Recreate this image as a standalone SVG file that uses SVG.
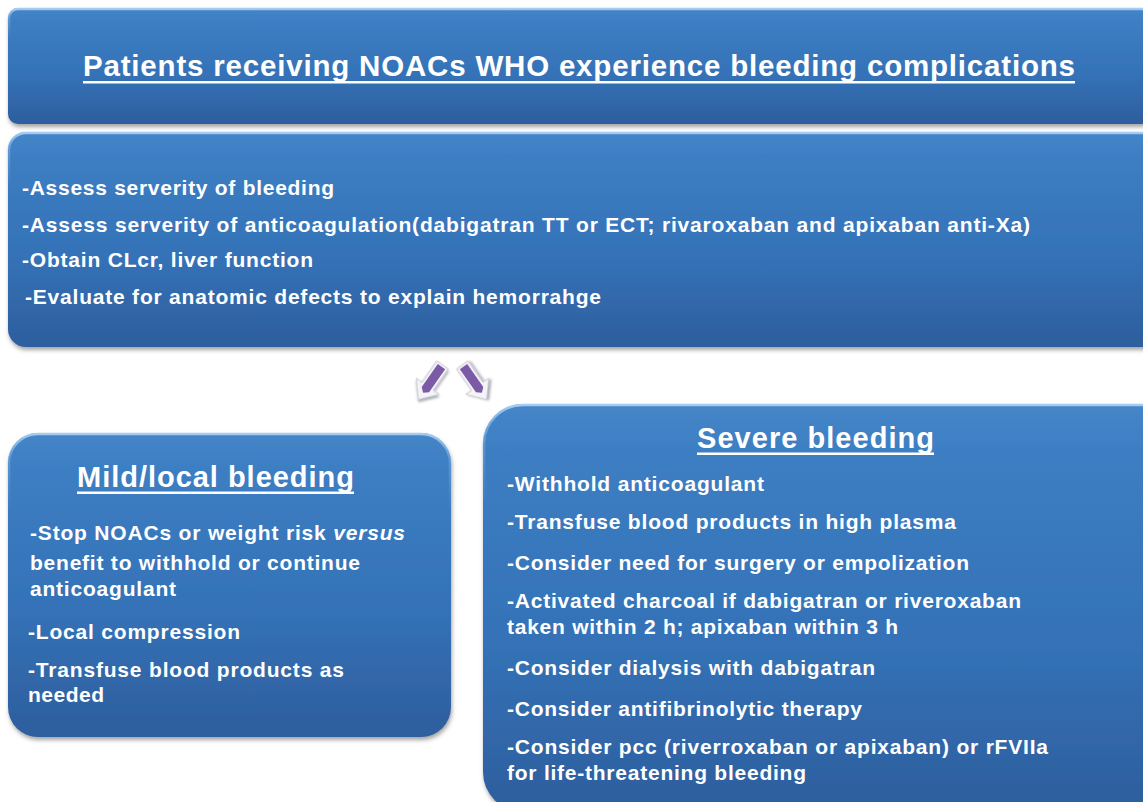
<svg xmlns="http://www.w3.org/2000/svg" width="1143" height="802" viewBox="0 0 1143 802">
  <defs>
    <linearGradient id="boxFill" x1="0" y1="0" x2="0" y2="1">
      <stop offset="0" stop-color="#4586c8"/>
      <stop offset="0.12" stop-color="#3d7ec3"/>
      <stop offset="0.6" stop-color="#3471b6"/>
      <stop offset="1" stop-color="#2d5e9d"/>
    </linearGradient>
    <linearGradient id="edgeGlow" x1="0" y1="0" x2="0" y2="1">
      <stop offset="0" stop-color="#a9cff2" stop-opacity="0.95"/>
      <stop offset="0.08" stop-color="#7fb2e4" stop-opacity="0.5"/>
      <stop offset="0.25" stop-color="#7fb2e4" stop-opacity="0"/>
      <stop offset="1" stop-color="#7fb2e4" stop-opacity="0"/>
    </linearGradient>
    <filter id="boxShadow" x="-5%" y="-5%" width="110%" height="115%">
      <feDropShadow dx="1" dy="3" stdDeviation="2.2" flood-color="#5a5a5a" flood-opacity="0.55"/>
    </filter>
    <filter id="arrowShadow" x="-30%" y="-30%" width="160%" height="160%">
      <feDropShadow dx="1.5" dy="2" stdDeviation="1.2" flood-color="#8a8a95" flood-opacity="0.7"/>
    </filter>
    <!-- block arrow pointing down, tip near (0,20) -->
    <g id="blockArrow">
      <polygon points="-7,-22 7,-22 7,4 14,4 0,20 -14,4 -7,4" fill="#f4f4f8" stroke="#c9c9d3" stroke-width="1" filter="url(#arrowShadow)"/>
      <polygon points="-4.5,-20 4.5,-20 4.5,8 0,12 -4.5,8" fill="#7b5aa6"/>
    </g>
    <style>
      .box { fill: url(#boxFill); filter: url(#boxShadow); }
      .glow { fill: none; stroke: url(#edgeGlow); stroke-width: 2.5; }
      .head { font-family: "Liberation Sans", Arial, sans-serif; font-weight: bold; fill: #ffffff; font-size: 29.5px; }
      .sub { font-family: "Liberation Sans", Arial, sans-serif; font-weight: bold; fill: #ffffff; font-size: 29px; }
      .body { font-family: "Liberation Sans", Arial, sans-serif; font-weight: bold; fill: #ffffff; font-size: 21px; }
      .rule { fill: #ffffff; }
    </style>
  </defs>

  <rect width="1143" height="802" fill="#ffffff"/>

  <!-- header -->
  <g id="node-title">
    <rect class="box" x="8" y="8" width="1160" height="116" rx="10" ry="10"/>
    <rect class="glow" x="9" y="9" width="1158" height="114" rx="9" ry="9"/>
    <text class="head" x="83" y="76" textLength="992" lengthAdjust="spacing">Patients receiving NOACs WHO experience bleeding complications</text>
    <rect class="rule" x="83" y="81" width="992" height="2.5"/>
  </g>

  <!-- initial assessment -->
  <g id="node-assess">
    <rect class="box" x="8" y="132" width="1160" height="215" rx="18" ry="18"/>
    <rect class="glow" x="9" y="133" width="1158" height="213" rx="17" ry="17"/>
    <text class="body" x="22" y="195" textLength="312" lengthAdjust="spacing">-Assess serverity of bleeding</text>
    <text class="body" x="22" y="232" textLength="1008" lengthAdjust="spacing">-Assess serverity of anticoagulation(dabigatran TT or ECT; rivaroxaban and apixaban anti-Xa)</text>
    <text class="body" x="22" y="267" textLength="291" lengthAdjust="spacing">-Obtain CLcr, liver function</text>
    <text class="body" x="25" y="304" textLength="576" lengthAdjust="spacing">-Evaluate for anatomic defects to explain hemorrahge</text>
  </g>

  <!-- branch arrows -->
  <g id="connectors">
    <use href="#blockArrow" transform="translate(430,383) rotate(35)"/>
    <use href="#blockArrow" transform="translate(475,383) rotate(-35)"/>
  </g>

  <!-- mild branch -->
  <g id="node-mild">
    <rect class="box" x="8" y="433" width="443" height="304" rx="30" ry="30"/>
    <rect class="glow" x="9" y="434" width="441" height="302" rx="29" ry="29"/>
    <text class="sub" x="77" y="487" textLength="277" lengthAdjust="spacing">Mild/local bleeding</text>
    <rect class="rule" x="77" y="491.5" width="277" height="2.5"/>
    <text class="body" x="30" y="540" textLength="375" lengthAdjust="spacing">-Stop NOACs or weight risk <tspan font-style="italic">versus</tspan></text>
    <text class="body" x="30" y="570" textLength="330" lengthAdjust="spacing">benefit to withhold or continue</text>
    <text class="body" x="30" y="596" textLength="146" lengthAdjust="spacing">anticoagulant</text>
    <text class="body" x="28" y="639" textLength="212" lengthAdjust="spacing">-Local compression</text>
    <text class="body" x="28" y="677" textLength="316" lengthAdjust="spacing">-Transfuse blood products as</text>
    <text class="body" x="28" y="702" textLength="76" lengthAdjust="spacing">needed</text>
  </g>

  <!-- severe branch -->
  <g id="node-severe">
    <rect class="box" x="483" y="404" width="700" height="408" rx="40" ry="40"/>
    <rect class="glow" x="484" y="405" width="698" height="406" rx="39" ry="39"/>
    <text class="sub" x="697" y="448" textLength="237" lengthAdjust="spacing">Severe bleeding</text>
    <rect class="rule" x="697" y="452.5" width="237" height="2.5"/>
    <text class="body" x="507" y="491" textLength="257" lengthAdjust="spacing">-Withhold anticoagulant</text>
    <text class="body" x="507" y="529" textLength="449" lengthAdjust="spacing">-Transfuse blood products in high plasma</text>
    <text class="body" x="507" y="570" textLength="462" lengthAdjust="spacing">-Consider need for surgery or empolization</text>
    <text class="body" x="507" y="608" textLength="514" lengthAdjust="spacing">-Activated charcoal if dabigatran or riveroxaban</text>
    <text class="body" x="507" y="634" textLength="391" lengthAdjust="spacing">taken within 2 h; apixaban within 3 h</text>
    <text class="body" x="507" y="675" textLength="368" lengthAdjust="spacing">-Consider dialysis with dabigatran</text>
    <text class="body" x="507" y="716" textLength="355" lengthAdjust="spacing">-Consider antifibrinolytic therapy</text>
    <text class="body" x="507" y="754" textLength="541" lengthAdjust="spacing">-Consider pcc (riverroxaban or apixaban) or rFVIIa</text>
    <text class="body" x="507" y="780" textLength="299" lengthAdjust="spacing">for life-threatening bleeding</text>
  </g>
</svg>
